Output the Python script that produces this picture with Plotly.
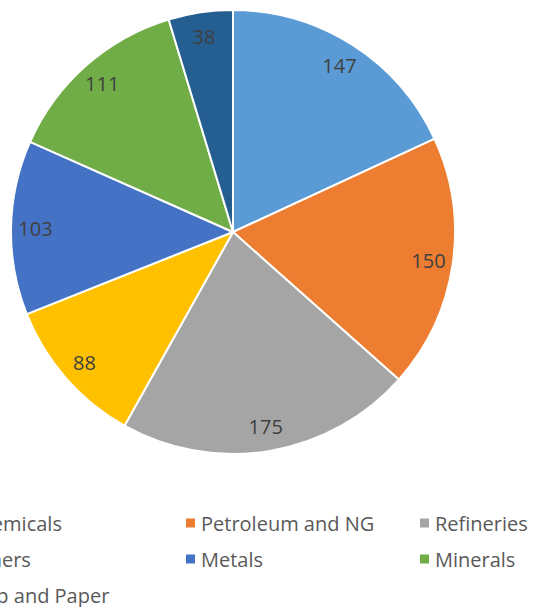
import plotly.graph_objects as go

labels = ["Chemicals", "Petroleum and NG", "Refineries", "Others", "Metals", "Minerals", "Pulp and Paper"]
values = [147, 150, 175, 88, 103, 111, 38]
colors = ["#5B9BD5", "#ED7D31", "#A5A5A5", "#FFC000", "#4472C4", "#70AD47", "#255E91"]

W, H = 535, 607
cx, cy, r = 233, 232, 222
domain = dict(x=[(cx - r) / W, (cx + r) / W], y=[1 - (cy + r) / H, 1 - (cy - r) / H])

fig = go.Figure()
# pie slices
fig.add_trace(go.Pie(
    labels=labels, values=values, sort=False, direction="clockwise", rotation=0,
    marker=dict(colors=colors, line=dict(color="white", width=2)),
    textinfo="none", domain=domain, showlegend=False, hoverinfo="label+value",
))
# value labels near the outer edge (Excel "inside end")
fig.add_trace(go.Pie(
    labels=labels, values=values, sort=False, direction="clockwise", rotation=0,
    hole=0.78,
    marker=dict(colors=["rgba(0,0,0,0)"] * len(values), line=dict(width=0)),
    textinfo="value", textposition="inside", insidetextorientation="horizontal",
    textfont=dict(family="Open Sans", size=20, color="#404040"),
    domain=domain, showlegend=False, hoverinfo="skip",
))

# legend (3 columns, Excel style), partly cut at the left edge as in the reference
col_step, row_step = 234, 36
marker_x0, text_x0, row_y0, msize = -48, -35, 523, 9
shapes, annotations = [], []
for i, (lab, col) in enumerate(zip(labels, colors)):
    c, rw = i % 3, i // 3
    mx = marker_x0 + c * col_step
    y = row_y0 + rw * row_step
    shapes.append(dict(type="rect", xref="paper", yref="paper",
                       x0=mx / W, x1=(mx + msize) / W,
                       y0=1 - (y + msize / 2) / H, y1=1 - (y - msize / 2) / H,
                       fillcolor=col, line=dict(width=0)))
    annotations.append(dict(text=lab, xref="paper", yref="paper",
                            x=(text_x0 + c * col_step) / W, y=1 - y / H,
                            xanchor="left", yanchor="middle", showarrow=False,
                            font=dict(family="Open Sans", size=20, color="#595959")))

fig.update_layout(
    width=W, height=H,
    margin=dict(l=0, r=0, t=0, b=0, autoexpand=False),
    paper_bgcolor="white",
    showlegend=False,
    shapes=shapes,
    annotations=annotations,
)

fig.write_html("out.html", config={"displayModeBar": False},
               post_script="document.body.style.margin='0';")
